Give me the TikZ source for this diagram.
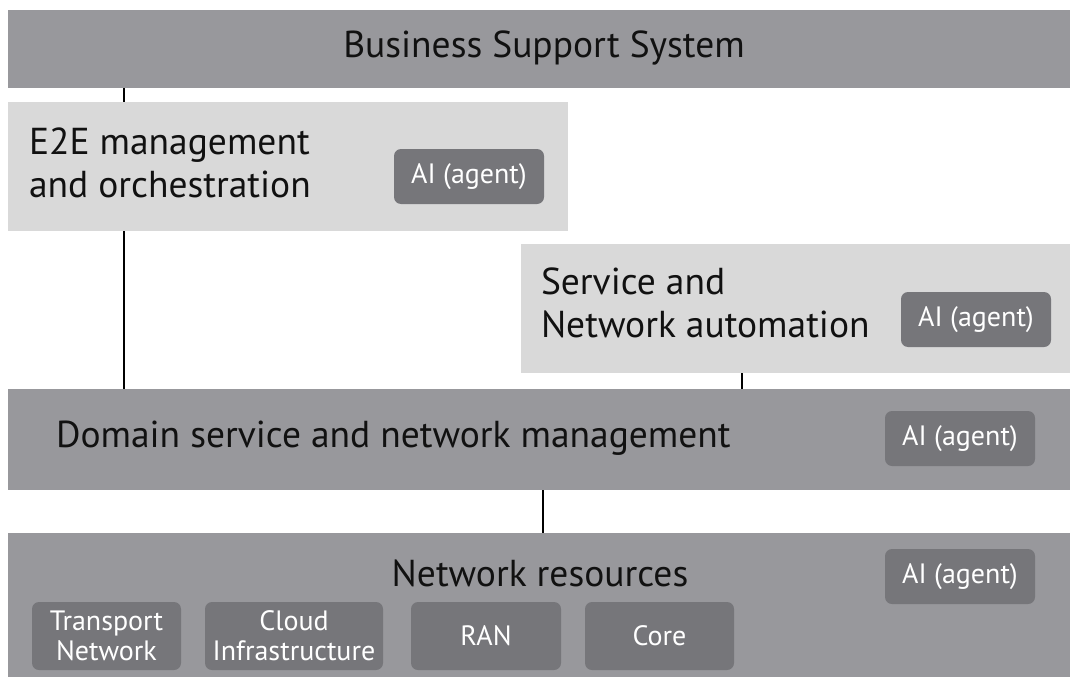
\documentclass[tikz,border=0pt]{standalone}
\usepackage{fontspec}
\setmainfont{PT Sans}
\definecolor{bardark}{HTML}{98989C}
\definecolor{barlight}{HTML}{D9D9D9}
\definecolor{chip}{HTML}{76767A}
\definecolor{ink}{HTML}{111111}
\tikzset{
  layer/.style={draw=none, inner sep=0pt, outer sep=0pt, anchor=north west, text=ink,
    font=\fontsize{37.5}{43}\selectfont},
  darklayer/.style={layer, fill=bardark},
  lightlayer/.style={layer, fill=barlight},
  agent/.style={fill=chip, rounded corners=7pt, inner sep=0pt, outer sep=0pt,
    anchor=north west, minimum width=150pt, minimum height=55pt, text=white,
    font=\fontsize{28}{33}\selectfont},
  label/.style={inner sep=0pt, outer sep=0pt, text=ink, align=left,
    font=\fontsize{37.5}{43}\selectfont},
  link/.style={draw=black, line width=2pt}
}
\begin{document}
\begin{tikzpicture}[x=1pt, y=-1pt]
\useasboundingbox (0,0) rectangle (1070,677);

% layers
\node[darklayer, minimum width=1062pt, minimum height=78pt] (bss) at (8,10) {};
\node[label, anchor=center] (bsstext) at (544,48) {Business Support System};

\node[lightlayer, minimum width=560pt, minimum height=129pt] (e2e) at (8,102) {};
\node[label, anchor=west] (e2etext) at (29,163) {E2E management\\and orchestration};
\node[agent] (e2eai) at (394,149) {AI (agent)};

\node[lightlayer, minimum width=549pt, minimum height=129pt] (sna) at (521,244) {};
\node[label, anchor=west] (snatext) at (541,303) {Service and\\Network automation};
\node[agent] (snaai) at (901,292) {AI (agent)};

\node[darklayer, minimum width=1062pt, minimum height=101pt] (dom) at (8,389) {};
\node[label, anchor=west] (domtext) at (56,438) {Domain service and network management};
\node[agent] (domai) at (885,411) {AI (agent)};

\node[darklayer, minimum width=1062pt, minimum height=144pt] (res) at (8,533) {};
\node[label, anchor=center] (restext) at (540,573) {Network resources};
\node[agent] (resai) at (885,549) {AI (agent)};

% resource blocks
\node[agent, minimum width=149pt, minimum height=68pt, align=center] (transport) at (32,602) {Transport\\[-3pt]Network};
\node[agent, minimum width=178pt, minimum height=68pt, align=center] (cloud) at (205,602) {Cloud\\[-3pt]Infrastructure};
\node[agent, minimum width=150pt, minimum height=68pt] (ran) at (411,602) {RAN};
\node[agent, minimum width=149pt, minimum height=68pt] (core) at (585,602) {Core};

% connectors
\draw[link] ([xshift=116pt]bss.south west) -- ([xshift=116pt]e2e.north west);
\draw[link] ([xshift=116pt]e2e.south west) -- ([xshift=116pt]dom.north west);
\draw[link] ([xshift=221pt]sna.south west) -- ([xshift=734pt]dom.north west);
\draw[link] ([xshift=535pt]dom.south west) -- ([xshift=535pt]res.north west);
\end{tikzpicture}
\end{document}
